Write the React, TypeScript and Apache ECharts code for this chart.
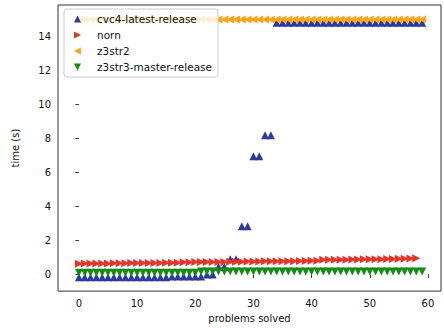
import React, { useEffect, useRef } from "react";
import * as echarts from "echarts";

const seriesNames = ["cvc4-latest-release", "norn", "z3str2", "z3str3-master-release"];

const cvc4Values = [
  -0.17, -0.17, -0.17, -0.17, -0.17, -0.17, -0.17, -0.17, -0.17, -0.17,
  -0.17, -0.17, -0.17, -0.17, -0.17, -0.17, -0.12, -0.12, -0.12, -0.12,
  -0.12, -0.12, 0.0, 0.0, 0.45, 0.45, 0.9, 0.9, 2.83, 2.83,
  6.95, 6.95, 8.2, 8.2, 14.82, 14.82, 14.82, 14.82, 14.82, 14.82,
  14.82, 14.82, 14.82, 14.82, 14.82, 14.82, 14.82, 14.82, 14.82, 14.82,
  14.82, 14.82, 14.82, 14.82, 14.82, 14.82, 14.82, 14.82, 14.82, 14.82,
];

const nornValues = [
  0.63, 0.64, 0.64, 0.65, 0.65, 0.65, 0.66, 0.66, 0.66, 0.67,
  0.67, 0.67, 0.68, 0.68, 0.68, 0.69, 0.69, 0.69, 0.72, 0.72,
  0.73, 0.73, 0.73, 0.74, 0.74, 0.74, 0.75, 0.75, 0.75, 0.76,
  0.76, 0.76, 0.77, 0.77, 0.77, 0.78, 0.78, 0.78, 0.79, 0.79,
  0.80, 0.80, 0.86, 0.86, 0.87, 0.87, 0.87, 0.88, 0.88,
  0.89, 0.89, 0.90, 0.90, 0.91, 0.91, 0.92, 0.93, 0.94, 0.96,
];

const z3str2Values = [
  15, 15, 15, 15, 15, 15, 15, 15, 15, 15,
  15, 15, 15, 15, 15, 15, 15, 15, 15, 15,
  15, 15, 15, 15, 15, 15, 15, 15, 15, 15,
  15, 15, 15, 15, 15, 15, 15, 15, 15, 15,
  15, 15, 15, 15, 15, 15, 15, 15, 15, 15,
  15, 15, 15, 15, 15, 15, 15, 15, 15, 15,
];

const z3str3Values = [
  0.1, 0.1, 0.1, 0.1, 0.1, 0.1, 0.1, 0.1, 0.1, 0.1,
  0.1, 0.1, 0.1, 0.1, 0.1, 0.1, 0.1, 0.1, 0.1, 0.1,
  0.1, 0.17, 0.17, 0.17, 0.17, 0.17, 0.17, 0.17, 0.17, 0.17,
  0.17, 0.17, 0.17, 0.17, 0.17, 0.17, 0.17, 0.17, 0.17, 0.17,
  0.17, 0.17, 0.17, 0.17, 0.17, 0.17, 0.17, 0.17, 0.17, 0.17,
  0.17, 0.17, 0.17, 0.17, 0.17, 0.17, 0.17, 0.17, 0.17, 0.17,
];

const xTicks = [0, 10, 20, 30, 40, 50, 60];
const yTicks = [0, 2, 4, 6, 8, 10, 12, 14];

const colors = ["#2b3a9c", "#e4352a", "#ffa51a", "#158a15"];
const symbols = [
  "path://M0,-1L1,1L-1,1Z",
  "path://M1,0L-1,-1L-1,1Z",
  "path://M-1,0L1,-1L1,1Z",
  "path://M-1,-1L1,-1L0,1Z",
];
const allValues = [cvc4Values, nornValues, z3str2Values, z3str3Values];

const FONT = "DejaVu Sans";

export default function App() {
  const ref = useRef<HTMLDivElement>(null);
  useEffect(() => {
    document.body.style.margin = "0";
    if (!ref.current) return;
    const chart = echarts.init(ref.current, null, { renderer: "svg" });
    const series = seriesNames.map((name, i) => ({
      name,
      type: "scatter",
      symbol: symbols[i],
      symbolSize: 8,
      symbolKeepAspect: true,
      itemStyle: { color: colors[i], opacity: 1 },
      data: allValues[i].map((v, j) => [j, v]),
    }));
    chart.setOption({
      animation: false,
      textStyle: { fontFamily: FONT },
      grid: {
        left: 58,
        top: 5,
        right: 3,
        bottom: 35,
        show: true,
        borderColor: "#333",
        borderWidth: 1,
        backgroundColor: "transparent",
      },
      legend: {
        orient: "vertical",
        left: 64,
        top: 9,
        padding: [4, 6, 4, 10],
        itemWidth: 7,
        itemHeight: 7,
        itemGap: 4,
        backgroundColor: "rgba(255,255,255,0.8)",
        borderColor: "#cccccc",
        borderWidth: 1,
        borderRadius: 3,
        textStyle: {
          fontFamily: FONT,
          fontSize: 10.5,
          color: "#111",
          lineHeight: 12,
          padding: [0, 0, 0, 11],
        },
        data: seriesNames,
      },
      xAxis: {
        type: "value",
        min: -3.6,
        max: 62.25,
        name: "problems solved",
        nameLocation: "middle",
        nameGap: 21,
        nameTextStyle: { fontFamily: FONT, fontSize: 10, color: "#111", verticalAlign: "top" },
        splitLine: { show: false },
        axisLine: { show: false },
        axisTick: { show: true, length: 3.5, lineStyle: { color: "#333" }, customValues: xTicks },
        axisLabel: { fontFamily: FONT, fontSize: 10, color: "#111", margin: 7, customValues: xTicks },
      },
      yAxis: {
        type: "value",
        min: -0.98,
        max: 15.86,
        name: "time (s)",
        nameLocation: "middle",
        nameGap: 38,
        nameTextStyle: { fontFamily: FONT, fontSize: 10, color: "#111" },
        splitLine: { show: false },
        axisLine: { show: false },
        axisTick: { show: true, length: 3.5, lineStyle: { color: "#333" }, customValues: yTicks },
        axisLabel: { fontFamily: FONT, fontSize: 10, color: "#111", margin: 7, customValues: yTicks },
      },
      series,
    });
    return () => chart.dispose();
  }, []);
  return <div ref={ref} style={{ width: 444, height: 328 }} />;
}
